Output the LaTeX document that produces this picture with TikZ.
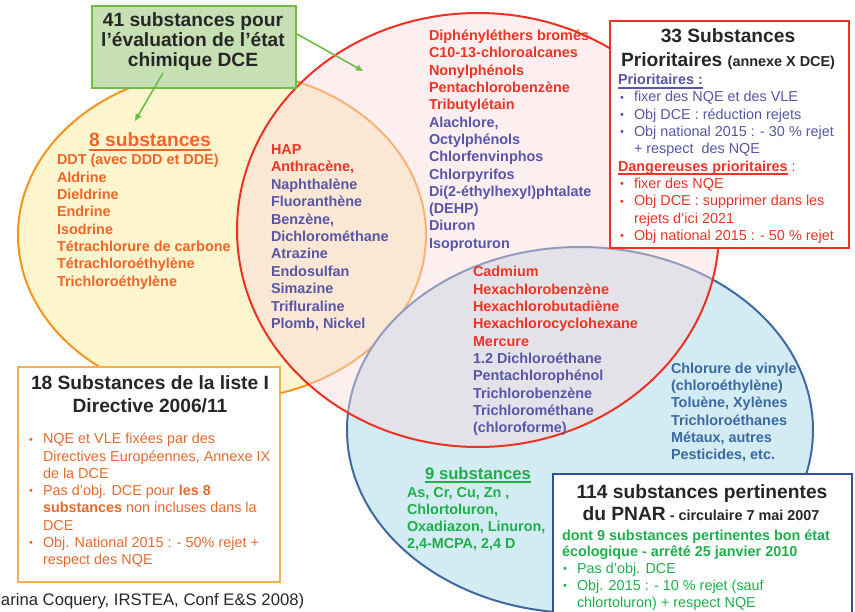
\documentclass[tikz,border=0pt]{standalone}
\usepackage{fontspec}
\setmainfont{Liberation Sans}
\usetikzlibrary{arrows.meta}
\definecolor{cOrLine}{RGB}{247,148,29}
\definecolor{cYel}{RGB}{252,245,205}
\definecolor{cRedLine}{RGB}{237,50,36}
\definecolor{cPinkF}{RGB}{250,217,222}
\definecolor{cBlueF}{RGB}{211,235,243}
\definecolor{cBlueLine}{RGB}{62,106,164}
\definecolor{cGreenF}{RGB}{198,224,180}
\definecolor{cGreenLine}{RGB}{110,190,70}
\definecolor{cTitle}{RGB}{38,38,38}
\definecolor{cPurp}{RGB}{88,86,166}
\definecolor{cRedT}{RGB}{238,52,36}
\definecolor{cOrT}{RGB}{241,101,41}
\definecolor{cOrT2}{RGB}{229,106,48}
\definecolor{cOrBox}{RGB}{248,175,80}
\definecolor{cSteel}{RGB}{58,105,162}
\definecolor{cGreenT}{RGB}{30,175,75}
\definecolor{cNavy}{RGB}{50,80,150}
\definecolor{cFoot}{RGB}{40,40,40}
\newcommand\fb{\bfseries\fontsize{14.4}{17.3}\selectfont}
\newcommand\fr{\fontsize{14.4}{17.3}\selectfont}
\newcommand\ft{\bfseries\fontsize{19.2}{20}\selectfont}
\newcommand\bl{\makebox[14pt][l]{\raisebox{0.6pt}{\fontsize{11}{11}\selectfont •}}}
\newcommand\ind{\hspace*{14pt}}
\newcommand\Lst[6]{\foreach \itm [count=\i] in {#6} {\node[#5] (#1\i) at (#2,{#3+(\i-1)*#4}) {\itm};}}
\newcommand\ulin[2]{\draw[#2, line width=1.5pt] ([yshift=-2.8pt]#1.base west) -- ([yshift=-2.8pt]#1.base east);}
\tikzset{
  lst/.style={inner sep=0pt, outer sep=0pt, anchor=base west, font=\fb},
  lstr/.style={inner sep=0pt, outer sep=0pt, anchor=base west, font=\fr},
  ttl/.style={inner sep=0pt, outer sep=0pt, anchor=base, font=\ft, text=cTitle},
  boxn/.style={inner sep=0pt, fill=white, line width=1.5pt},
  garrow/.style={draw=cGreenLine, line width=1.6pt, -{Triangle[length=7pt,width=6pt]}, fill=cGreenLine}
}
\begin{document}
\begin{tikzpicture}[x=1pt,y=-1pt]
\useasboundingbox (0,0) rectangle (855,612);
% ellipses
\path[fill=cYel, draw=cOrLine, line width=2pt] (222,235) ellipse [x radius=204pt, y radius=165pt];
\path[fill=cBlueF, draw=cBlueLine, line width=2pt] (580,430) ellipse [x radius=233pt, y radius=183pt];
\path[fill=cPinkF, fill opacity=0.45, draw=cRedLine, line width=2pt] (478,230) ellipse [x radius=241pt, y radius=217pt];
% boxes
\node[draw=cGreenLine, fill=cGreenF, line width=2pt, minimum width=204pt, minimum height=82pt, inner sep=0pt] (gbox) at (194,47) {};
\node[boxn, draw=cRedLine, minimum width=239pt, minimum height=227pt] (rbox) at (729.5,134.5) {};
\node[boxn, draw=cOrBox, minimum width=262pt, minimum height=215pt] (lbox) at (149,474.5) {};
\node[boxn, draw=cNavy, minimum width=299pt, minimum height=151pt] (bbox) at (702.5,549.5) {};
% arrows
\coordinate (a1s) at (163,73);
\coordinate (a1e) at (135,121);
\coordinate (a2e) at (363,71);
\draw[garrow] (a1s) -- (a1e);
\draw[garrow] ([yshift=13pt]gbox.east) -- (a2e);
% green box title
\Lst{gt}{193}{27}{20}{ttl}{{41 substances pour},{l’évaluation de l’état},{chimique DCE}}
% left ellipse
\node[ttl, text=cOrT] (h8) at (150,147) {8 substances};
\ulin{h8}{cOrT}
\Lst{ol}{57}{165}{17.3}{lst, text=cOrT}{{DDT (avec DDD et DDE)},Aldrine,Dieldrine,Endrine,Isodrine,{Tétrachlorure de carbone},{Tétrachloroéthylène},{Trichloroéthylène}}
% HAP column
\Lst{hp}{271}{154.5}{17.4}{lst, text=cPurp}{{\color{cRedT}HAP},{\color{cRedT}Anthracène,},Naphthalène,Fluoranthène,{Benzène,},Dichlorométhane,Atrazine,Endosulfan,Simazine,Trifluraline,{Plomb, Nickel}}
% top centre
\Lst{tc}{429}{40.7}{17.3}{lst, text=cPurp}{{\color{cRedT}Diphényléthers bromés},{\color{cRedT}C10-13-chloroalcanes},{\color{cRedT}Nonylphénols},{\color{cRedT}Pentachlorobenzène},{\color{cRedT}Tributylétain},{Alachlore,},Octylphénols,Chlorfenvinphos,Chlorpyrifos,{Di(2-éthylhexyl)phtalate},{(DEHP)},Diuron,Isoproturon}
% centre
\Lst{cc}{473}{277}{17.3}{lst, text=cPurp}{{\color{cRedT}Cadmium},{\color{cRedT}Hexachlorobenzène},{\color{cRedT}Hexachlorobutadiène},{\color{cRedT}Hexachlorocyclohexane},{\color{cRedT}Mercure},{1.2 Dichloroéthane},Pentachlorophénol,Trichlorobenzène,Trichlorométhane,{(chloroforme)}}
% right blue
\Lst{rb}{671}{373.5}{17.2}{lst, text=cSteel}{{Chlorure de vinyle},{(chloroéthylène)},{Toluène, Xylènes},Trichloroéthanes,{Métaux, autres},{Pesticides, etc.}}
% green
\node[ttl, font=\bfseries\fontsize{16.7}{20}\selectfont, text=cGreenT] (h9) at (478,479) {9 substances};
\ulin{h9}{cGreenT}
\Lst{gr}{407}{497}{17.3}{lst, text=cGreenT}{{As, Cr, Cu, Zn ,},{Chlortoluron,},{Oxadiazon, Linuron,},{2,4-MCPA, 2,4 D}}
% red box
\node[ttl] (rt1) at (728,43) {33 Substances};
\node[ttl] (rt2) at (728,67) {Prioritaires {\fb (annexe X DCE)}};
\node[lst, text=cPurp] (rp) at (618,85) {Prioritaires :};
\ulin{rp}{cPurp}
\Lst{rpb}{620}{102}{17.3}{lstr, text=cPurp}{{\bl fixer des NQE et des VLE},{\bl Obj DCE : réduction rejets},{\bl Obj national 2015 : - 30 \% rejet},{\ind + respect\ \ des NQE}}
\node[lst, text=cRedT] (rd) at (618,171.2) {Dangereuses prioritaires};
\ulin{rd}{cRedT}
\node[lstr, text=cRedT] (rdc) at (rd.base east) {\ :};
\Lst{rdb}{620}{188.5}{17.3}{lstr, text=cRedT}{{\bl fixer des NQE},{\bl Obj DCE : supprimer dans les},{\ind rejets d’ici 2021},{\bl Obj national 2015 : - 50 \% rejet}}
% bottom-left box
\Lst{lt}{150}{390}{23}{ttl}{{18 Substances de la liste I},{Directive 2006/11}}
\Lst{lb}{29}{444}{17.2}{lstr, text=cOrT2}{{\bl NQE et VLE fixées par des},{\ind Directives Européennes, Annexe IX},{\ind de la DCE},{\bl Pas d’obj. DCE pour \textbf{les 8}},{\ind \textbf{substances} non incluses dans la},{\ind DCE},{\bl Obj. National 2015 : - 50\% rejet +},{\ind respect des NQE}}
% bottom-right box
\node[ttl] (bt1) at (702,498) {114 substances pertinentes};
\node[ttl] (bt2) at (701,520) {du PNAR{\fb\ - circulaire 7 mai 2007}};
\Lst{bg}{562}{540}{16.8}{lst, text=cGreenT}{{dont 9 substances pertinentes bon état},{écologique - arrêté 25 janvier 2010}}
\Lst{bb}{563}{573.6}{16.8}{lstr, text=cGreenT}{{\bl Pas d’obj. DCE},{\bl Obj. 2015 : - 10 \% rejet (sauf},{\ind chlortoluron) + respect NQE}}
% footer
\node[lstr, font=\fontsize{16.7}{20}\selectfont, text=cFoot] (foot) at (1,605) {arina Coquery, IRSTEA, Conf E\&S 2008)};
\end{tikzpicture}
\end{document}
